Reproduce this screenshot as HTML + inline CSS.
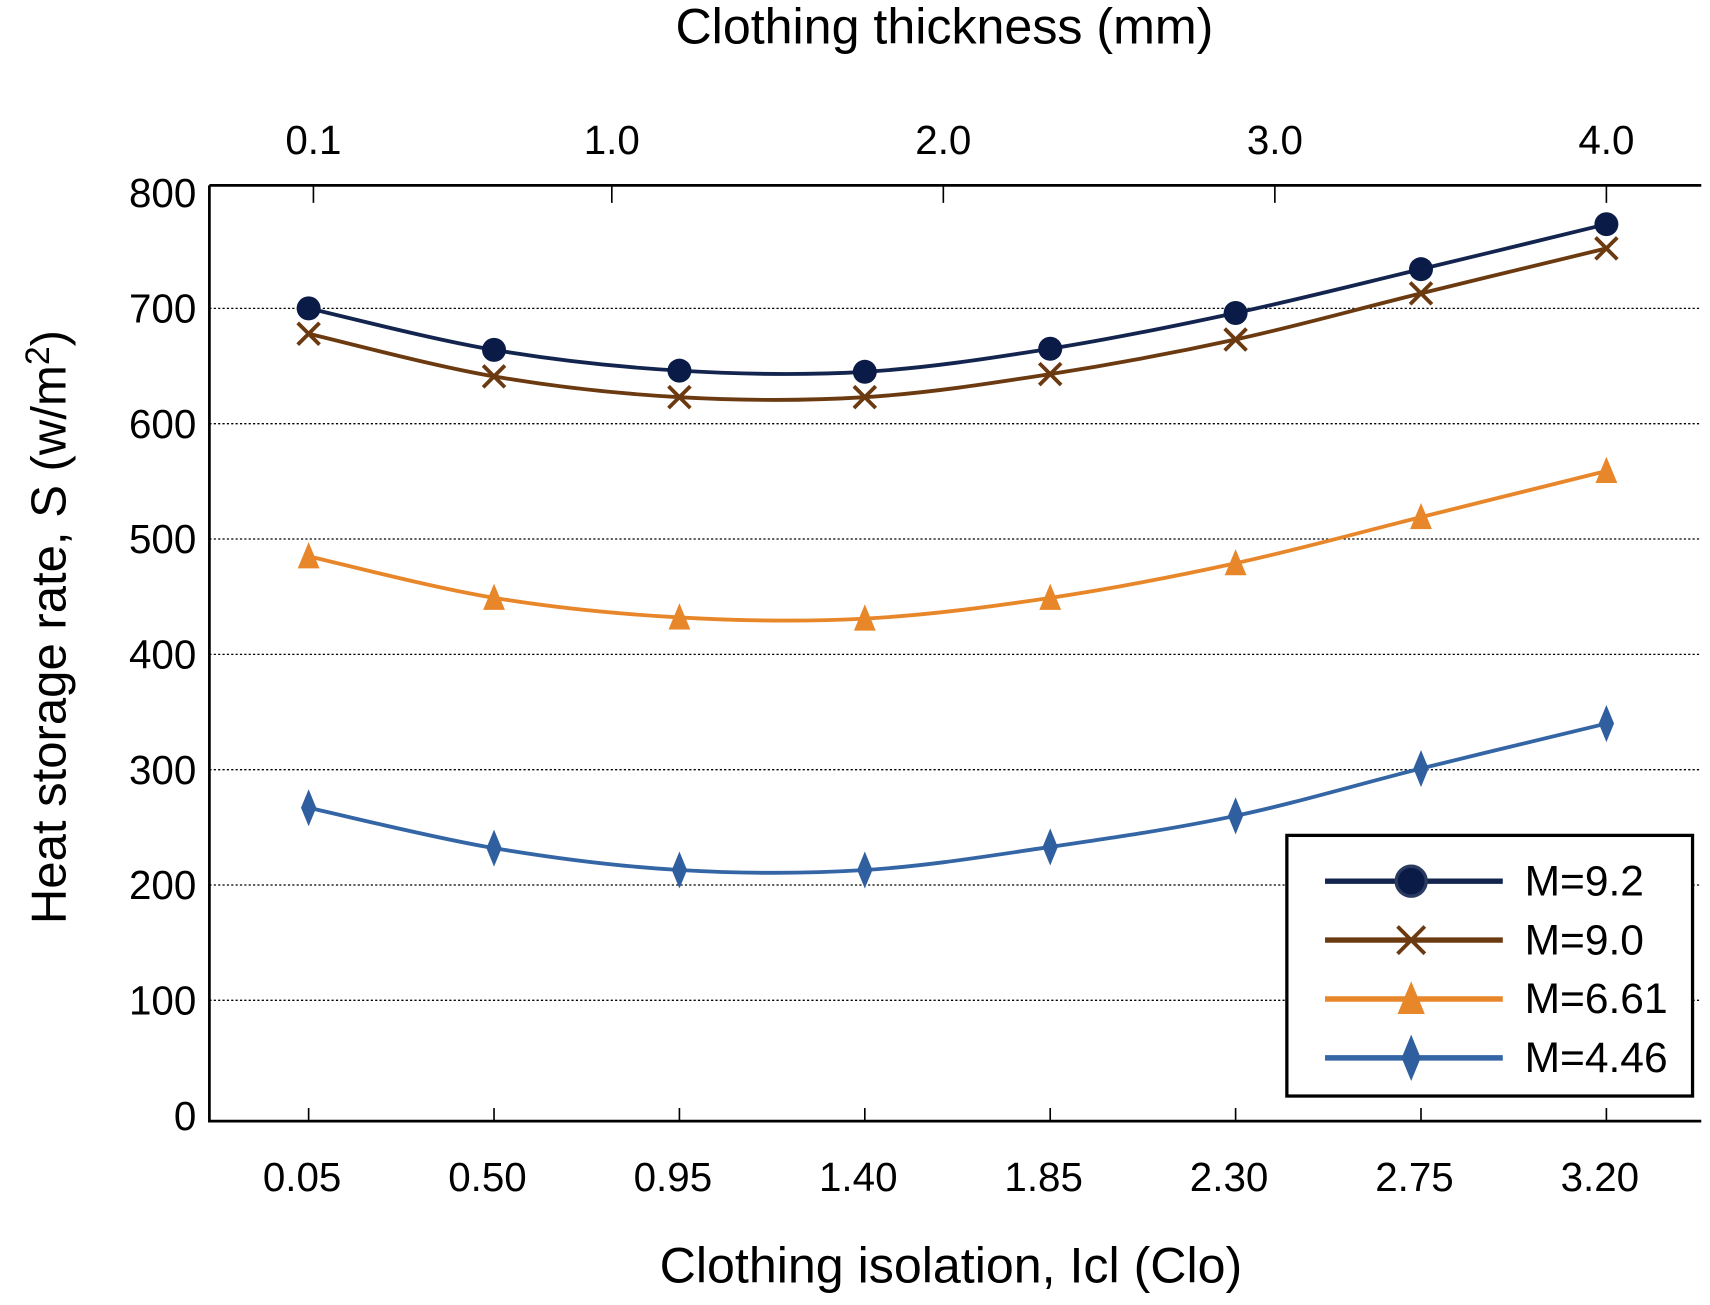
<!DOCTYPE html>
<html><head><meta charset="utf-8"><style>
html,body{margin:0;padding:0;background:#fff;}
svg{display:block;font-family:"Liberation Sans",Arial,sans-serif;}
</style></head>
<body>
<svg id="chart" width="1710" height="1305" viewBox="0 0 1568 1196.6" xmlns="http://www.w3.org/2000/svg">
<rect width="1568" height="1197" fill="#fff"/>
<g id="grid"></g>
<g id="axes"></g>
<g id="series"></g>
<g id="legend"></g>
</svg>
<script>
const categories = ["0.05","0.50","0.95","1.40","1.85","2.30","2.75","3.20"];
const yTicks = [0,100,200,300,400,500,600,700,800];
const topTicks = [0.1,1.0,2.0,3.0,4.0];
const topTickLabels = ["0.1","1.0","2.0","3.0","4.0"];
const seriesNames = ["M=9.2","M=9.0","M=6.61","M=4.46"];
const s92 = [700,664,646,645,665,696,734,773];
const s90 = [678,641,623,623,643,673,713,752];
const s661 = [485,449,432,431,449,479,519,559];
const s446 = [267,232,213,213,233,260,301,340];

const NS="http://www.w3.org/2000/svg";
const L=192,R=1560,T=170,B=1028,Y0=1023,Y800=177;
function yScale(v){return Y0-(v/800)*(Y0-Y800);}
function xScale(i){return 283+i*170;}
function topScale(v){return 561+(v-1)*304;}
function mk(tag,attrs,parent){const e=document.createElementNS(NS,tag);for(const k in attrs)e.setAttribute(k,attrs[k]);parent.appendChild(e);return e;}
const grid=document.getElementById('grid'),axes=document.getElementById('axes'),ser=document.getElementById('series'),leg=document.getElementById('legend');

yTicks.forEach(v=>{
  const y=yScale(v);
  if(v>0&&v<800){const g=mk('line',{x1:L,x2:R,y1:y,y2:y,stroke:'#000','stroke-width':1.2,'stroke-dasharray':'2,2'},grid);
  
  }
  const t=mk('text',{x:180,y:y+13,'text-anchor':'end','font-size':37,fill:'#000'},axes);t.textContent=v;
  
  
});
const fr=mk('path',{d:`M${L},${T} H${R} M${L},${T} V${B} H${R}`,stroke:'#000','stroke-width':2.5,fill:'none'},axes);


categories.forEach((c,i)=>{
  const x=xScale(i);
  mk('line',{x1:x,x2:x,y1:B,y2:B-12,stroke:'#000','stroke-width':1.5},axes);
  const t=mk('text',{x:x-6,y:1092,'text-anchor':'middle','font-size':37},axes);t.textContent=c;
  
  
});
topTicks.forEach((v,i)=>{
  const x=topScale(v);
  mk('line',{x1:x,x2:x,y1:T,y2:T+16,stroke:'#000','stroke-width':1.5},axes);
  const t=mk('text',{x:x,y:141,'text-anchor':'middle','font-size':37},axes);t.textContent=topTickLabels[i];
  
  
});
let t;
t=mk('text',{x:866,y:40,'text-anchor':'middle','font-size':46},axes);t.textContent="Clothing thickness (mm)";


t=mk('text',{x:872,y:1176,'text-anchor':'middle','font-size':46},axes);t.textContent="Clothing isolation, Icl (Clo)";


t=mk('text',{x:0,y:0,'text-anchor':'middle','font-size':45,transform:'translate(60,575) rotate(-90)'},axes);
t.innerHTML='Heat storage rate, S (w/m<tspan dy="-15" font-size="31">2</tspan><tspan dy="15">)</tspan>';



const colors=["#13244f","#6b3a10","#e8862a","#3465a4"];
const mcolors=["#0b1b48","#6b3a10","#e8862a","#2f5f9f"];
const shapes=["circle","x","tri","diamond"];
const data=[s92,s90,s661,s446];
function spline(pts){
  let d=`M${pts[0][0]},${pts[0][1]}`;
  for(let i=0;i<pts.length-1;i++){
    const p0=pts[Math.max(0,i-1)],p1=pts[i],p2=pts[i+1],p3=pts[Math.min(pts.length-1,i+2)];
    const c1=[p1[0]+(p2[0]-p0[0])/6,p1[1]+(p2[1]-p0[1])/6],c2=[p2[0]-(p3[0]-p1[0])/6,p2[1]-(p3[1]-p1[1])/6];
    d+=` C${c1[0]},${c1[1]} ${c2[0]},${c2[1]} ${p2[0]},${p2[1]}`;
  }
  return d;
}
function marker(shape,x,y,col,parent,big){
  const s=big?1.25:1;let e;
  if(shape==="circle")e=mk('circle',{cx:x,cy:y,r:11*s,fill:col,stroke:big?'#2a3a60':'none','stroke-width':3},parent);
  else if(shape==="x")e=mk('path',{d:`M${x-10*s},${y-10*s}L${x+10*s},${y+10*s}M${x-10*s},${y+10*s}L${x+10*s},${y-10*s}`,stroke:col,'stroke-width':3.5,fill:'none'},parent);
  else if(shape==="tri")e=mk('path',{d:`M${x},${y-13*s}L${x+10*s},${y+11*s}L${x-10*s},${y+11*s}Z`,fill:col},parent);
  else e=mk('path',{d:`M${x},${y-17*s}L${x+7*s},${y}L${x},${y+17*s}L${x-7*s},${y}Z`,fill:col},parent);
  return e;
}
data.forEach((arr,k)=>{
  const g=mk('g',{},ser);
  
  
  const pts=arr.map((v,i)=>[xScale(i),yScale(v)]);
  const p=mk('path',{d:spline(pts),stroke:colors[k],'stroke-width':3.5,fill:'none'},g);
  
  
  pts.forEach((pt,i)=>{
    const m=marker(shapes[k],pt[0],pt[1],mcolors[k],g,false);
    
    
  });
});
const box=mk('rect',{x:1180,y:766,width:372,height:239,fill:'#fff',stroke:'#000','stroke-width':3},leg);


seriesNames.forEach((n,k)=>{
  const y=808+k*54;
  const g=mk('g',{},leg);
  
  
  mk('line',{x1:1215,x2:1378,y1:y,y2:y,stroke:colors[k],'stroke-width':5},g);
  marker(shapes[k],1294,y,mcolors[k],g,true);
  const tt=mk('text',{x:1398,y:y+13,'font-size':39},g);tt.textContent=n;
});
</script>
</body></html>
